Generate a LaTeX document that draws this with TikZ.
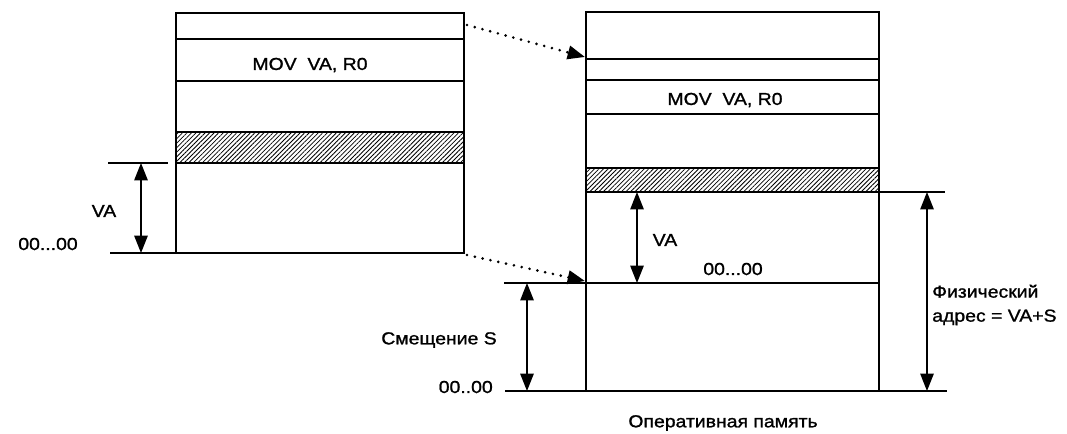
\documentclass[tikz,border=0pt]{standalone}
\usepackage{fontspec}
\setmainfont{Liberation Sans}[FakeStretch=1.12,FakeBold=1.2]
\usetikzlibrary{arrows.meta,patterns.meta}
\tikzset{
 mem/.style={line width=1.3pt},
 memthick/.style={line width=2pt},
 hatchband/.style={mem,pattern={Lines[angle=45,distance=2.4pt,line width=.6pt]}},
 dimarrow/.style={line width=1.2pt,{Triangle[length=13pt,width=10pt]}-{Triangle[length=13pt,width=10pt]}},
 maparrow/.style={line width=2.2pt,line cap=round,dash pattern=on 0pt off 6pt,-{Triangle[length=13pt,width=10pt]}},
 lbl/.style={inner sep=0pt,font=\fontsize{13}{18}\selectfont}
}
\begin{document}
\begin{tikzpicture}[x=.75pt,y=-.75pt]
 \useasboundingbox (0,0) rectangle (1067,433);
 % program
 \draw[hatchband] (176,132) rectangle (464,163);
 \draw[mem] (176,13) rectangle (464,253);
 \foreach \y in {39,81}{\draw[mem] (176,\y) -- (464,\y);}
 \node[lbl] (movProg) at (310,65) {MOV~~VA, R0};
 % memory
 \draw[hatchband] (586,168) rectangle (879,192);
 \draw[mem] (586,12) rectangle (879,391);
 \foreach \y in {59,80}{\draw[memthick] (586,\y) -- (879,\y);}
 \draw[mem] (586,114) -- (879,114);
 \node[lbl] (movMem) at (725,100) {MOV~~VA, R0};
 % base lines
 \draw[mem] (108,163) -- (168,163);
 \draw[mem] (110,253) -- (176,253);
 \draw[mem] (879,192) -- (945,192);
 \draw[mem] (504,283) -- (879,283);
 \draw[mem] (505,391) -- (947,391);
 \coordinate (vaTop) at (141,163); \coordinate (vaBot) at (141,253);
 \coordinate (vmTop) at (637,192); \coordinate (vmBot) at (637,283);
 \coordinate (sTop) at (527,283); \coordinate (sBot) at (527,391);
 \coordinate (paTop) at (927,192); \coordinate (paBot) at (927,391);
 \draw[dimarrow] (vaTop) -- (vaBot);
 \draw[dimarrow] (vmTop) -- (vmBot);
 \draw[dimarrow] (sTop) -- (sBot);
 \draw[dimarrow] (paTop) -- (paBot);
 % mapping
 \coordinate (progTop) at (467,25); \coordinate (memTop) at (585,57);
 \coordinate (progBase) at (467,255); \coordinate (memBase) at (585,281);
 \draw[maparrow] (progTop) -- (memTop);
 \draw[maparrow] (progBase) -- (memBase);
 % labels
 \node[lbl] (vaProg) at (104,211) {VA}; \node[lbl] (zeroProg) at (48,244) {00...00};
 \node[lbl] (vaMem) at (665,240) {VA}; \node[lbl] (zeroVA) at (733,269) {00...00};
 \node[lbl] (shift) at (439,340) {Смещение S};
 \node[lbl,anchor=east] (zeroMem) at (493,387) {00..00};
 \node[lbl,anchor=west,align=left] (phys) at (932,305) {Физический\\адрес = VA+S};
 \node[lbl] (ram) at (723,423) {Оперативная память};
\end{tikzpicture}
\end{document}
